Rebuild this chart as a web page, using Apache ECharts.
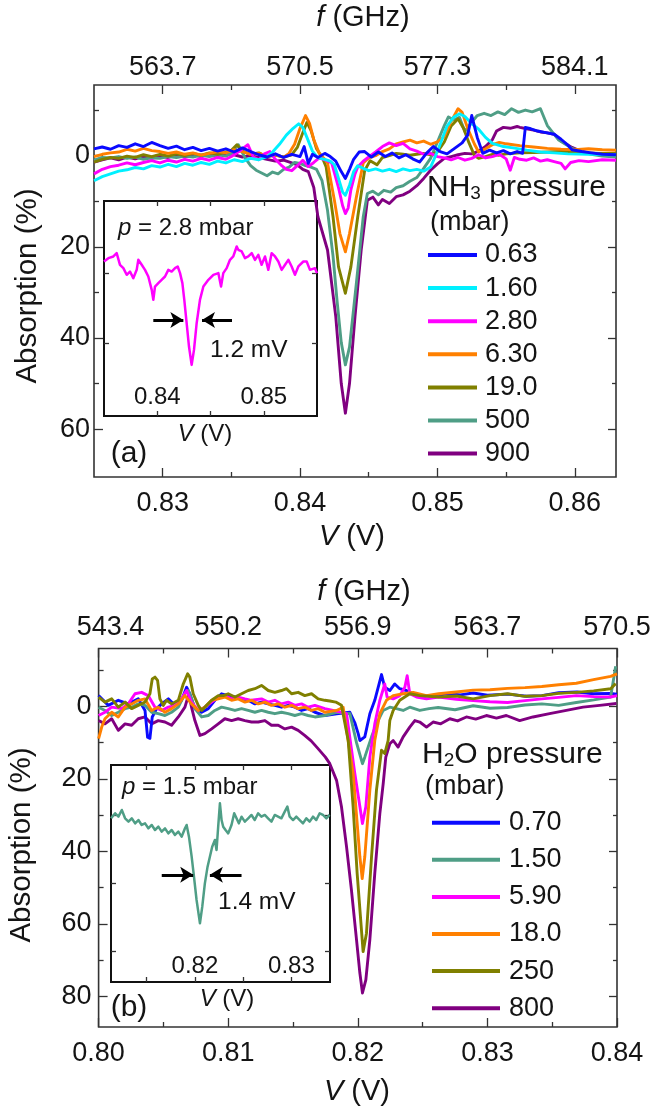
<!DOCTYPE html>
<html><head><meta charset="utf-8">
<script src="https://cdn.jsdelivr.net/npm/echarts@6/dist/echarts.min.js"></script>
<style>html,body{margin:0;padding:0;background:#fff}#c{width:656px;height:1110px}</style>
</head><body><div id="c"></div>
<script>
// ---------- Panel (a): NH3, V (V) vs absorption (%) ----------
const nh3Names = ['0.63','1.60','2.80','6.30','19.0','500','900'];
const nh3Colors = ['#0a0aff','#00f0ff','#ff00ff','#ff8000','#808000','#4f9e86','#800080'];
const nh3_063 = [[0.825,-1.5],[0.8256,-1.9],[0.8262,-1.4],[0.8268,-2.2],[0.8274,-1.8],[0.828,-2.6],[0.8286,-2.0],[0.8292,-2.9],[0.8298,-2.2],[0.8304,-1.6],[0.831,-2.1],[0.8316,-1.3],[0.8322,-1.8],[0.8328,-1.1],[0.8334,-1.6],[0.834,-1.0],[0.8346,-1.5],[0.8352,-0.8],[0.8358,-1.7],[0.8364,-0.9],[0.837,-0.2],[0.8376,0.3],[0.8382,-0.4],[0.8388,0.4],[0.8394,-0.3],[0.84,0.2],[0.8403,-2.0],[0.8406,1.7],[0.8409,-0.3],[0.8413,0.4],[0.8418,-0.5],[0.8422,0.2],[0.8426,1.2],[0.843,3.5],[0.8433,5.0],[0.8436,3.0],[0.8439,0.8],[0.8443,-0.8],[0.8447,-0.9],[0.8452,0.3],[0.8457,-0.8],[0.8462,0.2],[0.8467,-0.6],[0.8472,0.5],[0.8477,-0.2],[0.8482,0.7],[0.8487,1.4],[0.8492,-0.5],[0.8497,-2.0],[0.8502,-0.9],[0.8507,-0.4],[0.8512,-1.5],[0.8518,-2.8],[0.8522,-4.5],[0.8525,-8.8],[0.8529,-4.0],[0.8533,-0.5],[0.8538,-1.2],[0.8543,-0.6],[0.8548,-1.1],[0.8553,-0.4],[0.8558,-0.9],[0.8562,-0.5],[0.8564,-6.2],[0.8568,-5.9],[0.8573,-5.4],[0.8578,-5.1],[0.8585,-4.7],[0.859,-3.6],[0.8595,-2.3],[0.8598,-1.3],[0.8605,-0.9],[0.8612,-0.6],[0.862,-0.3],[0.863,-0.2]];
const nh3_160 = [[0.825,5.5],[0.8256,4.6],[0.8262,4.0],[0.8268,3.4],[0.8274,3.1],[0.828,2.6],[0.8286,2.9],[0.8292,2.2],[0.8298,2.5],[0.8304,1.9],[0.831,2.4],[0.8316,1.7],[0.8322,2.1],[0.8328,1.5],[0.8334,1.9],[0.834,1.2],[0.8346,1.6],[0.8352,0.9],[0.8358,1.3],[0.8364,0.6],[0.837,0.9],[0.8376,0.2],[0.838,-0.8],[0.8385,-2.5],[0.839,-4.5],[0.8395,-6.0],[0.8399,-7.0],[0.8402,-6.2],[0.8405,-4.0],[0.8409,-1.0],[0.8413,0.5],[0.8418,0.8],[0.8422,1.2],[0.8425,2.0],[0.8428,5.0],[0.8431,8.0],[0.8433,8.7],[0.8436,6.5],[0.8439,3.5],[0.8442,2.2],[0.8446,2.8],[0.845,3.3],[0.8455,2.9],[0.846,3.4],[0.8465,3.0],[0.847,3.5],[0.8475,2.9],[0.848,3.3],[0.8485,3.0],[0.849,3.4],[0.8495,2.5],[0.8498,0.5],[0.8502,-2.5],[0.8507,-6.5],[0.8512,-8.5],[0.8516,-9.2],[0.852,-8.6],[0.8525,-7.0],[0.853,-5.8],[0.8535,-4.0],[0.854,-2.7],[0.8548,-2.0],[0.8555,-1.7],[0.8565,-1.2],[0.8575,-0.8],[0.8585,-0.6],[0.8595,-0.4],[0.861,-0.3],[0.863,-0.2]];
const nh3_280 = [[0.825,4.0],[0.8256,3.0],[0.8262,2.4],[0.8268,2.1],[0.8274,1.6],[0.828,2.0],[0.8286,1.5],[0.8292,1.1],[0.8298,1.6],[0.8304,1.0],[0.831,1.4],[0.8316,0.8],[0.8322,1.2],[0.8328,0.6],[0.8334,1.0],[0.834,0.4],[0.8346,0.8],[0.835,0.2],[0.8356,-1.0],[0.8362,-2.4],[0.8366,0.3],[0.837,0.9],[0.8374,-0.4],[0.8378,-0.9],[0.8382,0.8],[0.8386,2.0],[0.839,3.0],[0.8394,3.3],[0.8398,2.2],[0.8402,1.0],[0.8406,2.4],[0.841,1.5],[0.8414,0.5],[0.8418,0.9],[0.8423,1.6],[0.8428,7.0],[0.8431,11.0],[0.8433,12.7],[0.8435,11.5],[0.8437,7.5],[0.844,4.0],[0.8442,2.5],[0.8446,1.2],[0.845,0.3],[0.8455,-0.8],[0.846,-2.0],[0.8465,-2.8],[0.847,-2.2],[0.8475,-2.7],[0.848,-1.5],[0.8485,-1.0],[0.849,-0.3],[0.8495,-0.5],[0.85,0.2],[0.8505,0.5],[0.851,0.9],[0.8515,0.4],[0.852,1.0],[0.8525,0.6],[0.853,-0.2],[0.8535,0.5],[0.854,0.2],[0.8545,-0.3],[0.855,0.7],[0.8553,3.2],[0.8556,0.4],[0.856,0.8],[0.8565,1.0],[0.857,0.5],[0.8575,1.2],[0.858,0.9],[0.8585,1.3],[0.859,1.7],[0.8593,2.9],[0.8597,1.5],[0.8603,1.1],[0.861,1.3],[0.862,0.9],[0.863,1.0]];
const nh3_630 = [[0.825,0.2],[0.8256,-0.3],[0.8262,-0.6],[0.8268,-0.8],[0.8274,-1.4],[0.828,-1.0],[0.8286,-1.6],[0.8292,-1.1],[0.8298,-0.9],[0.8304,-0.5],[0.831,-0.8],[0.8316,-0.3],[0.8322,-0.6],[0.8328,-0.1],[0.8334,-0.5],[0.834,-0.9],[0.8346,-0.6],[0.8352,-1.3],[0.8358,-0.9],[0.8364,-0.3],[0.837,-0.5],[0.8376,0.1],[0.8382,-0.2],[0.8388,0.4],[0.8392,-0.5],[0.8396,-2.5],[0.84,-6.0],[0.8404,-8.8],[0.8407,-7.0],[0.841,-3.5],[0.8414,-0.5],[0.8418,0.8],[0.842,1.6],[0.8425,9.8],[0.8429,17.1],[0.8433,21.1],[0.8436,17.1],[0.8441,9.1],[0.8446,1.6],[0.845,0.5],[0.8455,0.0],[0.846,-0.9],[0.8465,-1.5],[0.847,-2.6],[0.8475,-3.0],[0.848,-3.4],[0.8485,-2.8],[0.849,-3.2],[0.8495,-2.5],[0.85,-3.0],[0.8505,-4.2],[0.851,-7.5],[0.8515,-10.3],[0.8518,-9.5],[0.8522,-6.0],[0.8527,-2.5],[0.853,-0.8],[0.8535,-1.5],[0.854,-2.4],[0.8545,-2.9],[0.855,-2.6],[0.8555,-2.4],[0.856,-2.2],[0.857,-1.9],[0.858,-1.6],[0.859,-1.4],[0.86,-1.3],[0.861,-1.5],[0.862,-1.3],[0.863,-1.2]];
const nh3_190 = [[0.825,1.4],[0.8256,0.8],[0.8262,0.4],[0.8268,0.6],[0.8274,0.1],[0.828,0.4],[0.8286,-0.2],[0.8292,0.2],[0.8298,-0.3],[0.8304,0.1],[0.831,-0.4],[0.8316,0.0],[0.8322,-0.5],[0.8328,-0.1],[0.8334,-0.6],[0.834,-0.3],[0.8346,-0.8],[0.835,-1.2],[0.8354,-2.4],[0.8358,-1.0],[0.8364,-0.3],[0.837,-0.6],[0.8376,0.2],[0.8382,-0.1],[0.8388,0.3],[0.8394,-0.2],[0.8398,-1.8],[0.8402,-5.0],[0.8405,-7.3],[0.8408,-5.5],[0.8412,-1.5],[0.8416,0.3],[0.8419,2.5],[0.8424,13.4],[0.8428,24.4],[0.8433,30.2],[0.8437,24.4],[0.8442,13.4],[0.8447,3.3],[0.8451,1.1],[0.8456,2.0],[0.846,0.4],[0.8465,0.0],[0.847,-0.5],[0.8475,-0.3],[0.848,-0.1],[0.8485,-0.3],[0.849,-0.5],[0.8495,-0.2],[0.85,-0.8],[0.8505,-3.0],[0.851,-6.5],[0.8515,-8.1],[0.8519,-6.0],[0.8523,-2.8],[0.8527,0.0],[0.853,0.6],[0.8535,0.2],[0.854,-0.3],[0.8545,-0.1],[0.855,-0.4],[0.856,-0.6],[0.857,-0.7],[0.858,-0.8],[0.859,-0.9],[0.86,-0.8],[0.861,-0.6],[0.862,-0.5],[0.863,-0.5]];
const nh3_500 = [[0.825,1.0],[0.8256,0.4],[0.8262,0.5],[0.8268,0.2],[0.8274,0.6],[0.828,0.3],[0.8286,0.8],[0.8292,0.5],[0.8298,0.6],[0.8304,0.2],[0.831,0.4],[0.8316,0.1],[0.8322,0.3],[0.8328,-0.1],[0.8334,0.2],[0.834,-0.2],[0.8346,0.1],[0.835,-0.5],[0.8355,-2.4],[0.836,0.5],[0.8364,2.2],[0.8368,3.2],[0.8372,3.8],[0.8376,4.4],[0.838,3.6],[0.8384,4.0],[0.8388,3.0],[0.8392,2.5],[0.8396,1.5],[0.84,1.7],[0.8404,2.2],[0.8408,2.5],[0.8412,3.0],[0.8416,5.5],[0.842,12.0],[0.8424,22.0],[0.8427,32.0],[0.843,41.0],[0.8433,45.9],[0.8436,42.0],[0.8441,28.0],[0.8446,13.4],[0.8449,8.3],[0.8453,7.8],[0.8457,8.6],[0.8461,7.6],[0.8466,8.0],[0.847,7.0],[0.8475,6.6],[0.848,5.6],[0.8485,4.8],[0.849,2.8],[0.8495,0.6],[0.85,-3.0],[0.8505,-6.6],[0.8508,-8.5],[0.8512,-7.8],[0.8516,-8.4],[0.852,-5.3],[0.8524,-7.0],[0.8529,-8.8],[0.8534,-9.3],[0.8539,-8.8],[0.8544,-9.6],[0.8549,-9.0],[0.8554,-10.3],[0.8559,-9.5],[0.8564,-10.0],[0.8569,-9.6],[0.8575,-10.3],[0.858,-6.6],[0.8588,-3.5],[0.8598,-1.6],[0.8605,-0.9],[0.8612,-0.3],[0.862,0.1],[0.863,0.3]];
const nh3_900 = [[0.825,1.4],[0.8256,0.9],[0.8262,0.5],[0.8268,0.9],[0.8274,0.3],[0.828,0.7],[0.8286,0.2],[0.8292,0.6],[0.8298,0.1],[0.8304,0.4],[0.831,-0.1],[0.8316,0.3],[0.8322,-0.2],[0.8328,0.2],[0.8334,-0.4],[0.834,0.0],[0.8346,-0.5],[0.8352,-0.2],[0.8358,0.3],[0.8364,0.0],[0.837,0.4],[0.8376,0.8],[0.8382,1.2],[0.8388,1.0],[0.8394,1.6],[0.8398,2.0],[0.8402,3.0],[0.8406,3.5],[0.841,7.0],[0.8413,13.4],[0.842,20.7],[0.8426,35.3],[0.843,50.0],[0.8433,56.5],[0.8436,50.0],[0.844,35.3],[0.84445,20.7],[0.8449,9.8],[0.8453,9.1],[0.8457,10.8],[0.846,9.6],[0.8465,10.5],[0.847,9.0],[0.8475,8.6],[0.848,7.8],[0.8485,6.6],[0.849,5.0],[0.8495,3.2],[0.85,1.8],[0.8505,0.6],[0.851,0.2],[0.8515,-0.2],[0.852,-0.5],[0.8525,-0.4],[0.853,-1.0],[0.8535,-2.0],[0.854,-3.5],[0.8543,-5.4],[0.8548,-6.2],[0.8553,-6.0],[0.8558,-6.4],[0.856,-6.2],[0.8565,-5.9],[0.857,-5.6],[0.8575,-5.2],[0.858,-5.0],[0.8585,-4.7],[0.859,-3.2],[0.8598,-1.8],[0.8605,-0.9],[0.861,-0.6],[0.862,-0.4],[0.863,-0.5]];
const nh3Inset = [[0.835,8.34],[0.83541,7.86],[0.83588,7.62],[0.83619,7.15],[0.8365,8.81],[0.83682,9.29],[0.83713,10.24],[0.83744,9.77],[0.83775,10.72],[0.83807,9.53],[0.83822,8.1],[0.83854,8.81],[0.83885,9.53],[0.83916,10.48],[0.83948,12.39],[0.83963,13.81],[0.83979,11.91],[0.8401,11.43],[0.84041,10.96],[0.84073,10.48],[0.84104,9.53],[0.84135,9.77],[0.84167,9.29],[0.84192,9.05],[0.84214,10.0],[0.84236,11.43],[0.84254,13.81],[0.84276,17.15],[0.84298,20.48],[0.84323,23.1],[0.84345,20.96],[0.8437,17.15],[0.84401,13.81],[0.84433,11.91],[0.8448,10.96],[0.84527,10.24],[0.84574,10.0],[0.84599,11.91],[0.8462,10.0],[0.84652,9.29],[0.84683,8.1],[0.84714,7.62],[0.84746,6.2],[0.84761,6.67],[0.84793,6.91],[0.84824,7.86],[0.84855,7.62],[0.84887,7.15],[0.84918,8.1],[0.84949,7.39],[0.8498,8.81],[0.85012,7.62],[0.85043,9.53],[0.85074,7.15],[0.85106,7.62],[0.85137,8.34],[0.85168,9.53],[0.852,8.81],[0.85231,8.1],[0.85262,9.05],[0.85293,10.24],[0.85325,9.05],[0.85372,8.34],[0.85403,8.34],[0.85434,9.53],[0.85481,9.29],[0.855,10.0]];
const nh3InsetArrowY = 16.7;
const nh3InsetArrows = [[0.83963,0.84245],[0.84702,0.8442]];

// ---------- Panel (b): H2O ----------
const h2oNames = ['0.70','1.50','5.90','18.0','250','800'];
const h2oColors = ['#0a0aff','#4f9e86','#ff00ff','#ff8000','#808000','#800080'];
const h2o_070 = [[0.8,-3.0],[0.80075,-0.3],[0.80152,-1.7],[0.80229,-0.7],[0.80306,-2.1],[0.80358,1.1],[0.80378,8.5],[0.80396,8.8],[0.80414,2.9],[0.80448,0.6],[0.80486,-0.7],[0.80538,-2.1],[0.80589,-0.3],[0.8064,-1.7],[0.80679,-5.3],[0.80704,-3.5],[0.80743,0.6],[0.80795,1.6],[0.80846,0.6],[0.80897,-1.7],[0.80949,-3.5],[0.81,-3.0],[0.81052,-2.6],[0.81103,-2.1],[0.81154,-1.7],[0.81206,-0.7],[0.81257,-1.2],[0.81309,-0.7],[0.8136,-0.3],[0.81411,0.2],[0.81463,-0.3],[0.81514,0.2],[0.81566,1.1],[0.81617,0.6],[0.81669,1.6],[0.81746,2.5],[0.81836,2.0],[0.81939,1.6],[0.81977,4.5],[0.82003,7.5],[0.82016,9.4],[0.82054,8.4],[0.82093,2.0],[0.82131,-1.7],[0.82183,-8.8],[0.82208,-5.3],[0.82247,-4.4],[0.82285,-6.2],[0.82324,-4.9],[0.82375,-4.4],[0.82427,-3.5],[0.82478,-2.6],[0.8255,-3.0],[0.8262,-3.1],[0.827,-3.6],[0.8279,-3.2],[0.8289,-3.7],[0.83,-3.1],[0.8316,-3.4],[0.833,-2.8],[0.8342,-3.0],[0.8355,-3.8],[0.8369,-4.0],[0.8382,-3.5],[0.8395,-3.6],[0.84,-3.4]];
const h2o_150 = [[0.8,0.2],[0.80049,1.1],[0.80101,2.5],[0.80152,1.6],[0.80204,0.6],[0.80255,0.2],[0.80306,-0.7],[0.80358,-0.3],[0.80409,1.6],[0.8046,2.0],[0.80512,2.5],[0.80563,1.6],[0.80615,0.2],[0.80666,-3.5],[0.80692,-4.4],[0.80717,-2.1],[0.80743,0.6],[0.80795,2.9],[0.80846,2.5],[0.80897,1.1],[0.80949,0.2],[0.81,0.6],[0.81052,1.1],[0.81103,0.6],[0.81154,1.1],[0.81206,1.6],[0.81257,1.1],[0.81309,1.6],[0.8136,2.0],[0.81411,1.6],[0.81463,2.0],[0.81514,2.5],[0.81566,2.0],[0.81617,2.5],[0.81669,2.9],[0.81746,2.5],[0.81836,1.6],[0.81939,2.0],[0.8199,10.0],[0.82036,15.8],[0.82054,14.0],[0.82106,8.4],[0.82144,4.8],[0.82196,1.1],[0.82247,0.2],[0.82298,0.6],[0.8235,1.1],[0.82401,0.2],[0.82478,1.1],[0.8255,0.6],[0.8262,0.3],[0.8275,0.9],[0.8289,-0.2],[0.8302,0.5],[0.83155,0.3],[0.8329,-0.4],[0.8342,-0.7],[0.8355,-0.3],[0.83686,-1.1],[0.8382,-1.8],[0.83951,-2.6],[0.8399,-11.1]];
const h2o_590 = [[0.8,2.5],[0.80049,1.6],[0.80101,0.2],[0.80178,0.6],[0.80229,-0.7],[0.80281,-3.5],[0.80332,-3.9],[0.80383,-3.0],[0.80435,0.2],[0.80486,1.1],[0.80538,0.2],[0.80589,-0.3],[0.8064,-2.1],[0.80679,-4.4],[0.80717,-1.2],[0.80769,1.1],[0.8082,0.2],[0.80872,-1.2],[0.80923,-2.6],[0.80974,-3.0],[0.81026,-2.1],[0.81077,-2.6],[0.81129,-2.1],[0.8118,-1.7],[0.81257,-2.1],[0.81309,-1.2],[0.8136,-1.7],[0.81411,-0.7],[0.81463,-1.2],[0.81514,-0.3],[0.81566,-0.7],[0.81617,0.2],[0.81669,-0.3],[0.81746,0.6],[0.8186,1.5],[0.81913,2.0],[0.81977,18.5],[0.82036,32.3],[0.82062,27.7],[0.82093,14.0],[0.82131,4.8],[0.8217,-1.7],[0.82208,-6.2],[0.82226,-2.6],[0.82273,-2.1],[0.82324,-3.0],[0.82363,-5.3],[0.82381,-8.5],[0.82401,-3.5],[0.82453,-2.6],[0.8253,-2.1],[0.82624,-2.6],[0.8276,-2.0],[0.8289,-1.6],[0.8302,-1.3],[0.83155,-1.1],[0.8329,-1.6],[0.8342,-2.1],[0.8355,-2.5],[0.83686,-3.0],[0.8382,-2.7],[0.83951,-2.6],[0.84,-3.0]];
const h2o_180 = [[0.8,8.9],[0.80024,5.7],[0.80049,3.4],[0.80101,1.6],[0.80152,2.9],[0.80204,0.2],[0.80255,-0.7],[0.80306,-1.7],[0.80358,-2.1],[0.80409,1.1],[0.8046,0.2],[0.80512,1.6],[0.80563,0.6],[0.80615,-0.7],[0.80666,-3.0],[0.80717,-0.7],[0.80769,1.1],[0.8082,0.2],[0.80872,-1.7],[0.80923,-2.1],[0.80974,-2.6],[0.81026,-1.7],[0.81077,-2.1],[0.81129,-1.2],[0.8118,-1.7],[0.81232,-0.7],[0.81283,-1.2],[0.81334,-0.3],[0.81386,-0.7],[0.81437,0.2],[0.81489,-0.3],[0.8154,0.6],[0.81591,0.2],[0.81643,1.1],[0.81694,0.6],[0.81746,1.6],[0.81836,1.1],[0.81887,0.2],[0.81964,18.5],[0.82016,41.5],[0.82034,47.5],[0.82054,41.5],[0.82093,23.1],[0.82131,9.4],[0.8217,2.0],[0.82221,-1.7],[0.82273,-3.0],[0.8235,-3.5],[0.82427,-3.9],[0.8253,-3.0],[0.82624,-3.5],[0.8276,-4.0],[0.8289,-4.5],[0.8302,-4.6],[0.83155,-5.0],[0.8329,-5.2],[0.8342,-5.5],[0.8355,-6.0],[0.83686,-6.4],[0.83819,-7.4],[0.83951,-8.3],[0.84,-9.0]];
const h2o_250 = [[0.8,-2.6],[0.80049,-1.2],[0.80101,-2.1],[0.80152,0.2],[0.80204,-1.2],[0.80255,0.6],[0.80306,-0.3],[0.80358,-1.2],[0.80396,-3.5],[0.80414,-7.6],[0.80435,-8.1],[0.80455,-7.2],[0.80473,-2.1],[0.80499,-0.3],[0.80525,-1.7],[0.80563,-0.7],[0.80615,-1.7],[0.80653,-6.2],[0.80687,-9.0],[0.80704,-8.1],[0.8073,-3.5],[0.80769,-0.3],[0.80795,1.1],[0.80833,-0.3],[0.80872,-1.7],[0.80923,-3.0],[0.80962,-3.0],[0.81,-3.5],[0.81052,-2.6],[0.81103,-3.5],[0.81154,-4.4],[0.81206,-4.9],[0.81257,-5.8],[0.81309,-4.4],[0.8136,-3.9],[0.81411,-4.4],[0.8145,-4.9],[0.81489,-3.5],[0.8154,-3.9],[0.81591,-3.0],[0.81643,-3.5],[0.81694,-2.1],[0.81746,-1.7],[0.81784,-1.5],[0.8183,-1.2],[0.81874,-0.3],[0.81926,9.4],[0.81964,27.7],[0.81995,46.1],[0.82041,67.7],[0.82067,62.6],[0.82106,41.5],[0.82144,23.1],[0.82183,12.1],[0.82208,13.0],[0.82234,9.4],[0.82247,3.9],[0.82273,1.1],[0.82324,-1.7],[0.82401,-3.5],[0.82478,-3.0],[0.82624,-2.6],[0.8276,-2.9],[0.8289,-2.1],[0.8302,-3.0],[0.83155,-3.5],[0.8329,-2.8],[0.8342,-3.0],[0.8355,-3.6],[0.83686,-3.9],[0.8382,-4.3],[0.83951,-4.9],[0.8399,-6.3]];
const h2o_800 = [[0.8,3.9],[0.80049,4.8],[0.80101,3.4],[0.80152,6.6],[0.80204,4.8],[0.80255,5.2],[0.80306,3.4],[0.80358,2.9],[0.80409,4.8],[0.8046,3.9],[0.80512,4.3],[0.80563,5.2],[0.80615,2.9],[0.80666,0.2],[0.80697,-3.5],[0.80717,0.2],[0.80743,3.9],[0.80782,8.0],[0.8082,7.5],[0.80872,6.2],[0.80923,4.8],[0.80974,3.4],[0.81026,3.9],[0.81077,3.4],[0.81129,3.9],[0.8118,4.3],[0.81232,4.3],[0.81283,3.9],[0.81334,5.2],[0.81386,5.2],[0.81437,6.2],[0.81489,5.7],[0.8154,6.6],[0.8159,8.0],[0.8164,9.5],[0.8169,11.5],[0.8175,14.0],[0.81784,15.8],[0.81836,20.4],[0.81874,27.7],[0.81913,38.7],[0.81951,50.7],[0.8199,64.4],[0.82016,73.6],[0.82036,79.1],[0.82062,75.5],[0.82093,64.4],[0.82131,46.1],[0.8217,29.6],[0.82196,21.3],[0.82216,14.0],[0.82247,10.3],[0.82273,9.4],[0.82311,11.2],[0.8235,8.4],[0.82401,5.7],[0.8244,3.9],[0.82478,4.3],[0.8253,5.7],[0.82581,4.3],[0.8264,4.8],[0.8271,3.4],[0.8277,4.0],[0.82838,2.9],[0.8291,3.5],[0.82992,2.5],[0.8307,3.2],[0.83146,2.5],[0.83249,3.9],[0.83352,2.9],[0.8348,2.0],[0.83609,1.1],[0.83738,0.2],[0.83866,-0.3],[0.83995,-0.8]];
const h2oInset = [[0.81131,30.49],[0.81173,29.75],[0.81207,30.25],[0.81242,29.26],[0.81276,30.49],[0.81311,30.98],[0.81345,30.49],[0.8138,31.23],[0.81414,30.74],[0.81448,31.47],[0.81483,31.23],[0.81517,31.96],[0.81552,31.47],[0.81586,32.21],[0.81621,31.72],[0.81655,32.45],[0.8169,31.96],[0.81724,32.7],[0.81759,32.21],[0.81793,32.94],[0.81828,32.45],[0.81862,33.19],[0.81897,31.96],[0.81914,31.47],[0.81938,33.19],[0.81966,36.13],[0.8199,39.07],[0.82017,42.5],[0.82052,45.93],[0.82076,43.48],[0.82103,40.05],[0.82131,37.6],[0.82155,36.13],[0.82179,34.66],[0.82207,33.68],[0.82224,35.15],[0.82241,31.72],[0.82259,28.28],[0.82276,30.74],[0.82293,31.72],[0.82317,32.21],[0.82345,32.7],[0.82379,31.47],[0.82407,29.75],[0.82431,30.49],[0.82455,31.23],[0.82483,30.25],[0.82517,30.98],[0.82552,30.49],[0.82586,30.0],[0.8262,30.74],[0.82655,29.75],[0.82689,30.25],[0.82724,30.0],[0.82758,30.49],[0.82793,30.98],[0.82827,30.0],[0.82862,30.25],[0.82896,30.49],[0.82931,29.51],[0.82958,28.77],[0.82982,30.25],[0.83017,30.74],[0.83051,30.25],[0.83086,30.74],[0.8312,31.23],[0.83155,30.49],[0.83189,30.98],[0.83224,30.25],[0.83258,30.74],[0.83293,29.75],[0.83327,30.0],[0.83362,30.49],[0.83396,30.0]];
const h2oInsetArrowY = 38.8;
const h2oInsetArrows = [[0.81656,0.81982],[0.82483,0.82155]];

// ---------- tick values / labels ----------
const aXTicks = [0.83,0.84,0.85,0.86];
const aXMinor = [0.835,0.845,0.855];
const aTopLabels = ['563.7','570.5','577.3','584.1'];
const aYTicks = [0,20,40,60];
const aYMinor = [-10,10,30,50];
const aInsetXTicks = [0.84,0.845,0.85];
const aInsetXLabels = [0.84,0.85];
const aInsetYTicks = [10,20];
const bXTicks = [0.80,0.81,0.82,0.83,0.84];
const bXMinor = [0.805,0.815,0.825,0.835];
const bTopLabels = ['543.4','550.2','556.9','563.7','570.5'];
const bYTicks = [0,20,40,60,80];
const bYMinor = [-10,10,30,50,70];
const bInsetXTicks = [0.815,0.82,0.825,0.83];
const bInsetXLabels = [0.82,0.83];
const bInsetYTicks = [30,40,50];

const FF = "'Liberation Sans', Arial, Helvetica, sans-serif";
const TXT = '#141414';
const AXC = '#333';

function tick(vals, len){ return {show:true, inside:true, length:len, customValues:vals, lineStyle:{color:AXC, width:1.3}}; }
function lab(vals, fmt, margin, size, extra){ return Object.assign({show:true, customValues:vals, formatter:fmt, margin:margin, fontSize:size||27, fontFamily:FF, color:TXT}, extra||{}); }
function ax(o){ return Object.assign({type:'value', axisLine:{show:false, onZero:false}, splitLine:{show:false}, axisTick:{show:false}, axisLabel:{show:false}, minorTick:{show:false}, axisPointer:{show:false}, silent:true}, o); }
function lookup(vals, labels, richFirst){ return function(v){ const i = vals.findIndex(t => Math.abs(t - v) < 1e-7); if (i < 0) return ''; return (richFirst && i === 0) ? '{s|' + labels[i] + '}' : labels[i]; }; }
const f2 = v => v.toFixed(2);

const aX = {min:0.825, max:0.863};
const aY = {min:-15.5, max:70.5, inverse:true};
const aiX = {min:0.835, max:0.855};
const aiY = {min:-0.3, max:30.4, inverse:true};
const bX = {min:0.80, max:0.84};
const bY = {min:-16, max:88.5, inverse:true};
const biX = {min:0.8113, max:0.834};
const biY = {min:22.65, max:54.56, inverse:true};

const xAxis = [
  ax(Object.assign({gridIndex:0, position:'bottom', axisTick:tick(aXTicks,9), axisLabel:lab(aXTicks,f2,13.5)}, aX)),
  ax(Object.assign({gridIndex:0, position:'bottom', axisTick:tick(aXMinor,5)}, aX)),
  ax(Object.assign({gridIndex:0, position:'top', axisTick:tick(aXTicks,9), axisLabel:lab(aXTicks,lookup(aXTicks,aTopLabels),4)}, aX)),
  ax(Object.assign({gridIndex:0, position:'top', axisTick:tick(aXMinor,5)}, aX)),
  ax(Object.assign({gridIndex:1, position:'bottom', axisTick:tick(aInsetXTicks,5), axisLabel:lab(aInsetXLabels,f2,7,24,{inside:true})}, aiX)),
  ax(Object.assign({gridIndex:1, position:'top', axisTick:tick(aInsetXTicks,5)}, aiX)),
  ax(Object.assign({gridIndex:2, position:'bottom', axisTick:tick(bXTicks,9), axisLabel:lab(bXTicks,f2,13.5)}, bX)),
  ax(Object.assign({gridIndex:2, position:'bottom', axisTick:tick(bXMinor,5)}, bX)),
  ax(Object.assign({gridIndex:2, position:'top', axisTick:tick(bXTicks,9), axisLabel:lab(bXTicks,lookup(bXTicks,bTopLabels,true),7,27,{rich:{s:{padding:[0,0,0,24], fontSize:27, fontFamily:FF, color:TXT}}})}, bX)),
  ax(Object.assign({gridIndex:2, position:'top', axisTick:tick(bXMinor,5)}, bX)),
  ax(Object.assign({gridIndex:3, position:'bottom', axisTick:tick(bInsetXTicks,5), axisLabel:lab(bInsetXLabels,f2,3.5,24,{inside:true})}, biX)),
  ax(Object.assign({gridIndex:3, position:'top', axisTick:tick(bInsetXTicks,5)}, biX))
];
const yAxis = [
  ax(Object.assign({gridIndex:0, position:'left', axisTick:tick(aYTicks,9), axisLabel:lab(aYTicks,v=>String(v),4)}, aY)),
  ax(Object.assign({gridIndex:0, position:'left', axisTick:tick(aYMinor,5)}, aY)),
  ax(Object.assign({gridIndex:0, position:'right', axisTick:tick(aYTicks,8)}, aY)),
  ax(Object.assign({gridIndex:0, position:'right', axisTick:tick(aYMinor,4)}, aY)),
  ax(Object.assign({gridIndex:1, position:'left', axisTick:tick(aInsetYTicks,5)}, aiY)),
  ax(Object.assign({gridIndex:1, position:'right', axisTick:tick(aInsetYTicks,5)}, aiY)),
  ax(Object.assign({gridIndex:2, position:'left', axisTick:tick(bYTicks,9), axisLabel:lab(bYTicks,v=>String(v),7)}, bY)),
  ax(Object.assign({gridIndex:2, position:'left', axisTick:tick(bYMinor,5)}, bY)),
  ax(Object.assign({gridIndex:2, position:'right', axisTick:tick(bYTicks,8)}, bY)),
  ax(Object.assign({gridIndex:2, position:'right', axisTick:tick(bYMinor,4)}, bY)),
  ax(Object.assign({gridIndex:3, position:'left', axisTick:tick(bInsetYTicks,5)}, biY)),
  ax(Object.assign({gridIndex:3, position:'right', axisTick:tick(bInsetYTicks,5)}, biY))
];

function line(name, data, color, xi, yi, w){
  return {type:'line', name:name, data:data, xAxisIndex:xi, yAxisIndex:yi, symbol:'none', showSymbol:false,
    color:color, itemStyle:{color:color}, lineStyle:{color:color, width:w||2.9, join:'round'},
    silent:true, animation:false, emphasis:{disabled:true}};
}
function arrows(list, y){
  return {silent:true, animation:false, symbol:['none','arrow'], symbolSize:[12,13], label:{show:false}, emphasis:{disabled:true},
    lineStyle:{color:'#000', width:3, type:'solid', opacity:1},
    data: list.map(p => [{coord:[p[0], y]}, {coord:[p[1], y]}])};
}

const nh3Data = [nh3_063, nh3_160, nh3_280, nh3_630, nh3_190, nh3_500, nh3_900];
const h2oData = [h2o_070, h2o_150, h2o_590, h2o_180, h2o_250, h2o_800];
const series = [];
// panel (a): draw high pressure first so low-pressure traces lie on top
for (let i = nh3Names.length - 1; i >= 0; i--) series.push(line(nh3Names[i], nh3Data[i], nh3Colors[i], 0, 0));
const insA = line('insetA', nh3Inset, nh3Colors[2], 4, 4, 2.5);
insA.markLine = arrows(nh3InsetArrows, nh3InsetArrowY);
series.push(insA);
// panel (b): purple first, olive last
const bOrder = [5,0,1,2,3,4];
bOrder.forEach(i => series.push(line(h2oNames[i], h2oData[i], h2oColors[i], 6, 6)));
const insB = line('insetB', h2oInset, h2oColors[1], 10, 10, 2.5);
insB.markLine = arrows(h2oInsetArrows, h2oInsetArrowY);
series.push(insB);

const legendBase = {orient:'vertical', icon:'rect', padding:0, selectedMode:false,
  textStyle:{fontSize:27, fontFamily:FF, color:TXT, lineHeight:27}};

function T(text, x, y, size, align, extra){
  return {type:'text', x:x, y:y, silent:true, style:Object.assign({text:text, fontSize:size, fontFamily:FF, fill:TXT, align:align||'center', verticalAlign:'middle'}, extra||{})};
}
function R(size){ return {i:{fontStyle:'italic', fontSize:size, fontFamily:FF, fill:TXT}, n:{fontSize:size, fontFamily:FF, fill:TXT}, sub:{fontSize:Math.round(size*0.62), fontFamily:FF, fill:TXT, verticalAlign:'bottom'}}; }

const graphics = [
  T('{i|f}{n| (GHz)}', 363, 18, 29, 'center', {rich:R(29)}),
  Object.assign(T('Absorption (%)', 28, 286, 29.5), {rotation:Math.PI/2}),
  T('{i|V}{n| (V)}', 352, 537, 29, 'center', {rich:R(29)}),
  T('(a)', 129, 454, 30),
  T('{n|NH}{sub|3}{n| pressure}', 427, 188, 30, 'left', {rich:R(30)}),
  T('(mbar)', 430, 223, 27, 'left'),
  T('{i|p}{n| = 2.8 mbar}', 118, 228, 24, 'left', {rich:R(24)}),
  T('1.2 mV', 210, 350, 24.5, 'left'),
  T('{i|V}{n| (V)}', 205, 434, 24, 'center', {rich:R(24)}),
  T('{i|f}{n| (GHz)}', 364, 592, 29, 'center', {rich:R(29)}),
  Object.assign(T('Absorption (%)', 22, 845, 29.5), {rotation:Math.PI/2}),
  T('{i|V}{n| (V)}', 357, 1092, 29, 'center', {rich:R(29)}),
  T('(b)', 129, 1008, 30),
  T('{n|H}{sub|2}{n|O pressure}', 422, 755, 30, 'left', {rich:R(30)}),
  T('(mbar)', 425, 787, 27, 'left'),
  T('{i|p}{n| = 1.5 mbar}', 122, 787, 24, 'left', {rich:R(24)}),
  T('1.4 mV', 218, 902, 24.5, 'left'),
  T('{i|V}{n| (V)}', 227, 999, 24, 'center', {rich:R(24)})
];

const chart = echarts.init(document.getElementById('c'), null, {renderer:'canvas'});
chart.setOption({
  animation:false,
  backgroundColor:'#fff',
  textStyle:{fontFamily:FF},
  grid:[
    {left:94, top:85, width:522, height:392, show:true, borderColor:AXC, borderWidth:1.6, backgroundColor:'transparent', containLabel:false, outerBoundsMode:'none'},
    {left:104, top:201, width:213, height:215, show:true, borderColor:'#111', borderWidth:2, backgroundColor:'#fff', containLabel:false, outerBoundsMode:'none'},
    {left:98.6, top:648.5, width:518.4, height:378.5, show:true, borderColor:AXC, borderWidth:1.6, backgroundColor:'transparent', containLabel:false, outerBoundsMode:'none'},
    {left:111, top:765, width:219, height:217, show:true, borderColor:'#111', borderWidth:2, backgroundColor:'#fff', containLabel:false, outerBoundsMode:'none'}
  ],
  xAxis:xAxis,
  yAxis:yAxis,
  legend:[
    Object.assign({}, legendBase, {data:nh3Names, left:428, top:241.5, itemWidth:49, itemHeight:4, itemGap:6.1,
      textStyle:Object.assign({}, legendBase.textStyle, {padding:[0,0,0,3]})}),
    Object.assign({}, legendBase, {data:h2oNames, left:432, top:809.2, itemWidth:68, itemHeight:4, itemGap:10.1,
      textStyle:Object.assign({}, legendBase.textStyle, {padding:[0,0,0,4]})})
  ],
  series:series,
  graphic:{elements:graphics}
});
</script></body></html>
